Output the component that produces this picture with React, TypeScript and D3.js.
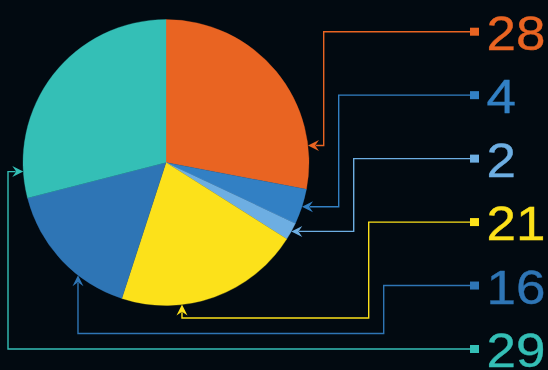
import React from "react";
import * as d3 from "d3";

const labels = ["28", "4", "2", "21", "16", "29"];
const values = [28, 4, 2, 21, 16, 29];
const colors = ["#E96422", "#3280C4", "#6DAEE2", "#FCE11A", "#2E75B5", "#34BFB6"];
// where along each slice the connector arrow points (fraction of the slice's angle)
const pointerFrac = [0.825, 0.5, 0.5, 0.677, 0.347, 0.103];
// routing style of each connector
const routes = ["right", "right", "right", "bottom", "bottom", "left"];

const W = 548;
const H = 370;
const BG = "#020A11";

export default function App() {
  const cx = 166;
  const cy = 162.5;
  const r = 143;

  const pie = d3.pie<number>().sort(null).value((d) => d).startAngle(0).endAngle(2 * Math.PI);
  const arcs = pie(values);
  const arcGen = d3.arc<d3.PieArcDatum<number>>().innerRadius(0).outerRadius(r);

  const yScale = d3.scalePoint<number>().domain(d3.range(labels.length)).range([31.7, 349]);
  const sqX = 474.5;
  const sqW = 9;
  const sqH = 8;
  const lineStart = sqX - sqW / 2;
  const elbowX0 = 323.7;
  const elbowStep = 15;
  const bottomStep = 15.5;
  const leftX = 8;
  const arrowLen = 11;
  const arrowHalf = 5.5;
  const textX = 486.5;

  const lastY = yScale(labels.length - 1)!;

  return (
    <svg
      width={W}
      height={H}
      style={{ position: "fixed", left: 0, top: 0, background: BG, display: "block" }}
    >
      <rect x={0} y={0} width={W} height={H} fill={BG} />
      <g transform={`translate(${cx},${cy})`}>
        {arcs.map((a, i) => (
          <path key={i} d={arcGen(a)!} fill={colors[i]} stroke={colors[i]} strokeWidth={0.3} />
        ))}
      </g>
      {arcs.map((a, i) => {
        const y = yScale(i)!;
        const ang = a.startAngle + pointerFrac[i] * (a.endAngle - a.startAngle);
        const tipX = cx + r * Math.sin(ang);
        const tipY = cy - r * Math.cos(ang);
        const elbowX = elbowX0 + elbowStep * i;
        let pts: [number, number][] = [];
        let dir: [number, number] = [-1, 0];
        if (routes[i] === "right") {
          pts = [
            [lineStart, y],
            [elbowX, y],
            [elbowX, tipY],
            [tipX + arrowLen * 0.7, tipY],
          ];
          dir = [-1, 0];
        } else if (routes[i] === "bottom") {
          const by = lastY - bottomStep * (labels.length - 1 - i);
          pts = [
            [lineStart, y],
            [elbowX, y],
            [elbowX, by],
            [tipX, by],
            [tipX, tipY + arrowLen * 0.7],
          ];
          dir = [0, -1];
        } else {
          pts = [
            [lineStart, y],
            [leftX, y],
            [leftX, tipY],
            [tipX - arrowLen * 0.7, tipY],
          ];
          dir = [1, 0];
        }
        const line = d3.line()(pts)!;
        const [dx, dy] = dir;
        const px = -dy;
        const py = dx;
        const bx = tipX - dx * arrowLen;
        const by2 = tipY - dy * arrowLen;
        const nx = tipX - dx * arrowLen * 0.65;
        const ny = tipY - dy * arrowLen * 0.65;
        const head = `M${tipX},${tipY}L${bx + px * arrowHalf},${by2 + py * arrowHalf}L${nx},${ny}L${bx - px * arrowHalf},${by2 - py * arrowHalf}Z`;
        return (
          <g key={i}>
            <path d={line} fill="none" stroke={colors[i]} strokeWidth={1.4} />
            <path d={head} fill={colors[i]} />
            <rect x={sqX - sqW / 2} y={y - sqH / 2} width={sqW} height={sqH} fill={colors[i]} />
            <text
              x={0}
              y={0}
              transform={`translate(${textX},${y + 18.3}) scale(1.08,1)`}
              fill={colors[i]}
              stroke={colors[i]}
              strokeWidth={0.4}
              fontFamily="'Liberation Sans', Arial, Helvetica, sans-serif"
              fontSize={49}
            >
              {labels[i]}
            </text>
          </g>
        );
      })}
    </svg>
  );
}
